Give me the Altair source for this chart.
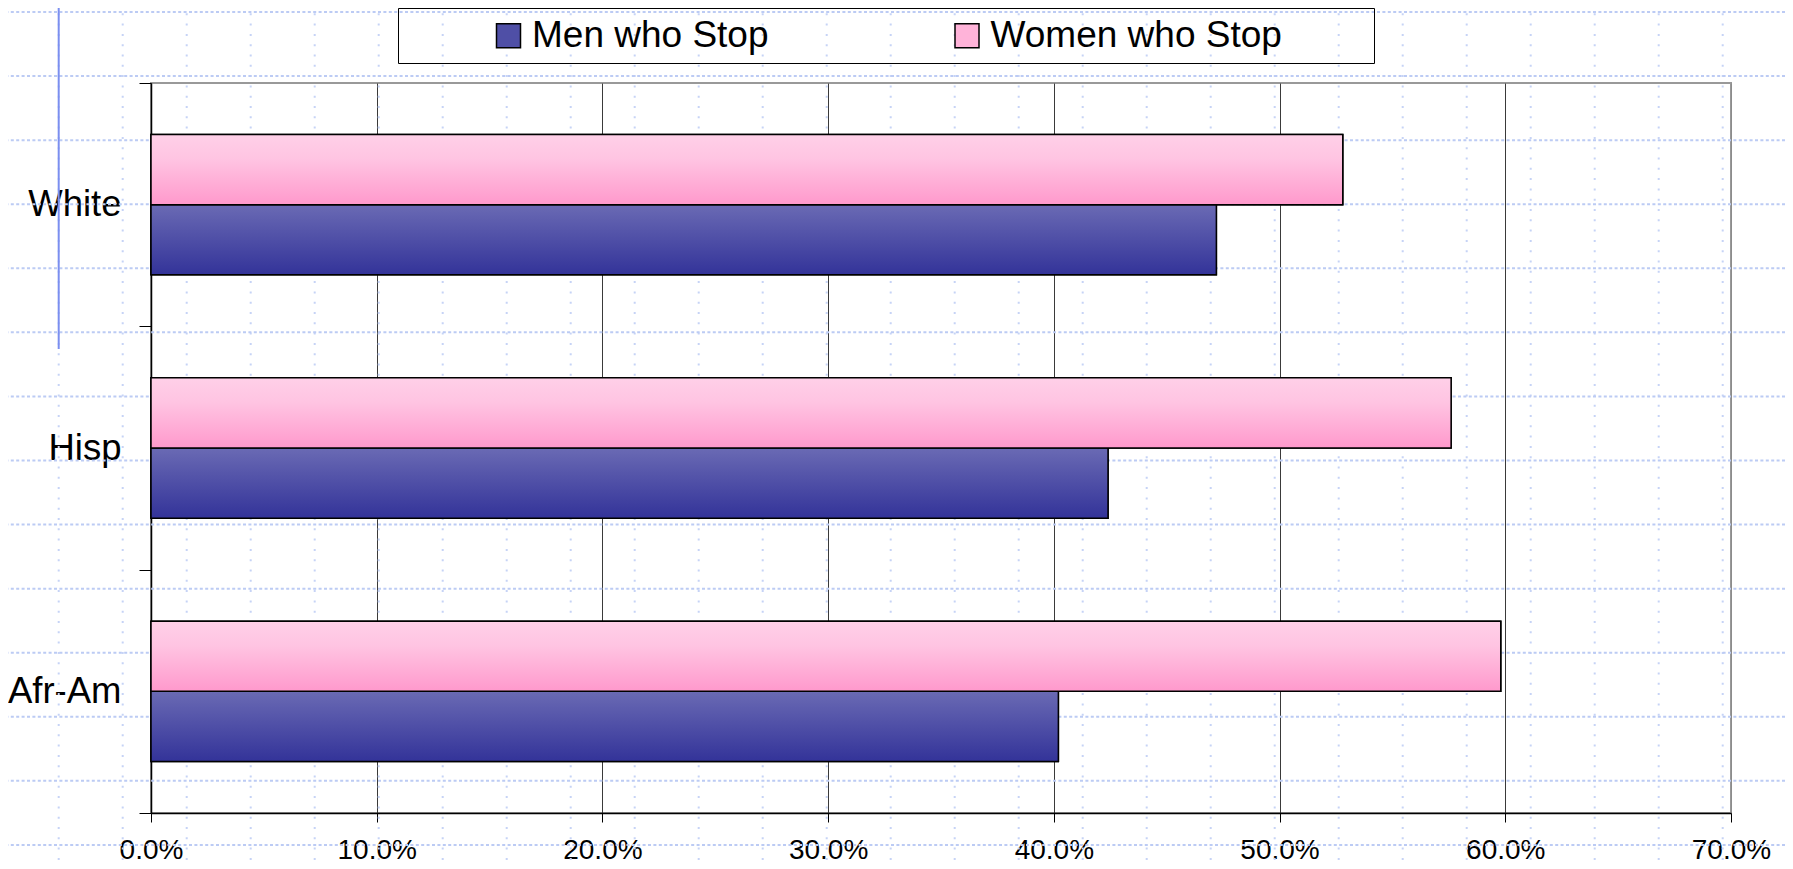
import altair as alt
import pandas as pd

# ---- chart data ----
groups = ["White", "Hisp", "Afr-Am"]
series = ["Men who Stop", "Women who Stop"]
men = [47.2, 42.4, 40.2]
women = [52.8, 57.6, 59.8]
x_ticks = [0, 10, 20, 30, 40, 50, 60, 70]

# ---- slide background (dotted grid in grid units, accent lines) ----
bg_cols = list(range(0, 28))
bg_rows = list(range(0, 14))
accent_col = [0, 27]
accent_start = [-0.2, -0.2]
accent_end = [5.26, 0.76]

rows = []
for g, m, w in zip(groups, men, women):
    rows.append({"group": g, "series": series[0], "value": m / 100})
    rows.append({"group": g, "series": series[1], "value": w / 100})
df = pd.DataFrame(rows)

FONT = "Liberation Sans"
PLOT_W, PLOT_H = 1580, 730
PAD = {"left": 143, "top": 75, "right": 54, "bottom": 52}

# background scales (grid index -> pixels)
bgx = alt.Scale(domain=[0, 27], range=[58.7 - 151, 58.7 + 64 * 27 - 151], nice=False, zero=False)
bgy = alt.Scale(domain=[0, 13], range=[12 - 83, 12 + 64.07 * 13 - 83], nice=False, zero=False)

vgrid = alt.Chart(pd.DataFrame({"k": bg_cols})).mark_rule(
    color="#c6d3f6", strokeWidth=2, strokeDash=[2, 8.3]
).encode(
    x=alt.X("k:Q", scale=bgx, axis=None),
    y=alt.value(-80), y2=alt.value(790),
)
hgrid = alt.Chart(pd.DataFrame({"r": bg_rows})).mark_rule(
    color="#bccbf4", strokeWidth=2, strokeDash=[3, 2.4]
).encode(
    y=alt.Y("r:Q", scale=bgy, axis=None),
    x=alt.value(-151), x2=alt.value(1645),
)
accent = alt.Chart(pd.DataFrame({"k": accent_col, "s": accent_start, "e": accent_end})).mark_rule(
    color="#7b8ff0", strokeWidth=2
).encode(
    x=alt.X("k:Q", scale=bgx, axis=None),
    y=alt.Y("s:Q", scale=bgy, axis=None),
    y2="e:Q",
)
background = alt.layer(vgrid, hgrid, accent)

grad_men = alt.Gradient(
    gradient="linear",
    stops=[alt.GradientStop(color="#6a6ab4", offset=0),
           alt.GradientStop(color="#333399", offset=1)],
    x1=0, x2=0, y1=0, y2=1)
grad_women = alt.Gradient(
    gradient="linear",
    stops=[alt.GradientStop(color="#ffd0e8", offset=0),
           alt.GradientStop(color="#ffc4e2", offset=0.35),
           alt.GradientStop(color="#ff99cc", offset=1)],
    x1=0, x2=0, y1=0, y2=1)

x_enc = alt.X(
    "value:Q",
    scale=alt.Scale(domain=[0, 0.7], nice=False, zero=True),
    axis=alt.Axis(
        values=[t / 100 for t in x_ticks], format=".1%", title=None,
        grid=True,
        gridColor={"condition": {"test": "datum.value > 0.65", "value": "#8c8c8c"}, "value": "#3a3a3a"},
        gridWidth=1,
        domainColor="black", domainWidth=1.5,
        tickColor="black", tickSize=9, tickWidth=1,
        labelFont=FONT, labelFontSize=28, labelColor="black",
        labelPadding=14, labelFlush=False, labelOverlap=False, labelBound=False,
    ),
)
y_enc = alt.Y(
    "group:N", sort=groups,
    scale=alt.Scale(paddingInner=0, paddingOuter=0),
    axis=alt.Axis(
        title=None, grid=False, tickBand="extent",
        domainColor="black", domainWidth=1.5,
        tickColor="black", tickSize=12, tickWidth=1,
        labelFont=FONT, labelFontSize=36.5, labelColor="black", labelPadding=18,
    ),
)
yoff_enc = alt.YOffset(
    "series:N",
    scale=alt.Scale(domain=[series[1], series[0]], paddingInner=0, paddingOuter=0.733),
)

base = alt.Chart(df).encode(x=x_enc, y=y_enc, yOffset=yoff_enc)

ZW = "\u200b"
NB = "\u00a0"
legend_layer = base.mark_bar(stroke="black", strokeWidth=1.5).encode(
    color=alt.Color(
        "series:N",
        scale=alt.Scale(domain=series, range=["#4f4fa6", "#ffb3d9"]),
        legend=alt.Legend(
            orient="none", legendX=247, legendY=-75, direction="horizontal",
            title=ZW + NB * 9 + ZW, titleOrient="left", titleFontSize=32.8, titlePadding=0,
            titleLimit=1000,
            strokeColor="black", padding=9,
            symbolType="square", symbolSize=576, symbolStrokeColor="black",
            symbolStrokeWidth=1.5,
            labelFont=FONT, labelFontSize=37, labelColor="black", labelOffset=5,
            labelLimit=2000, columnPadding=179.5,
            labelExpr="datum.label == 'Women who Stop' ? datum.label + '" + NB * 8 + ZW + "' : datum.label",
        ),
    )
)

men_layer = base.transform_filter(alt.datum.series == series[0]).mark_bar(
    fill=grad_men, stroke="black", strokeWidth=1.5)
women_layer = base.transform_filter(alt.datum.series == series[1]).mark_bar(
    fill=grad_women, stroke="black", strokeWidth=1.5)

main = alt.layer(legend_layer, men_layer, women_layer)

chart = (
    alt.layer(background, main)
    .resolve_scale(x="independent", y="independent")
    .properties(
        width=PLOT_W, height=PLOT_H,
        padding=PAD,
        autosize=alt.AutoSizeParams(type="none"),
        background="white",
    )
    .configure(font=FONT)
    .configure_view(stroke="#999999", strokeWidth=2)
)

chart.save("out.html", embed_options={"renderer": "svg", "actions": False})
